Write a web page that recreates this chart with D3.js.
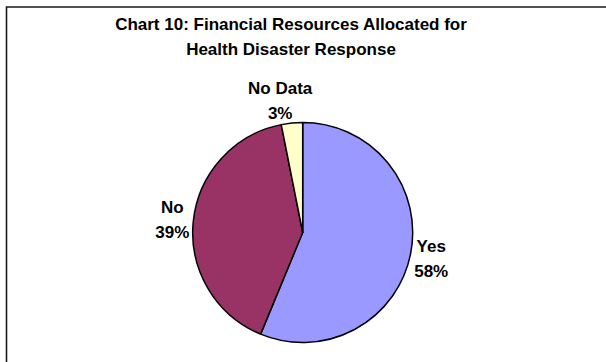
<!DOCTYPE html>
<html>
<head>
<meta charset="utf-8">
<script src="https://cdn.jsdelivr.net/npm/d3@7"></script>
<style>
  body { margin: 0; background: #fff; }
  svg { display: block; }
  text { font-family: "Liberation Sans", Arial, sans-serif; font-weight: bold; fill: #000; }
</style>
</head>
<body>
<div id="chart"></div>
<script>
// slice sizes as drawn (respondent counts), and the percentages printed on the labels
var categories = ["Yes", "No", "No Data"];
var values = [18, 13, 1];
var percentLabels = ["58%", "39%", "3%"];
var titleLines = ["Chart 10: Financial Resources Allocated for", "Health Disaster Response"];

var width = 606,
  height = 362;

var cx = 302.7,
  cy = 232.5,
  outerRadius = 110;

var color = d3.scaleOrdinal()
  .domain(categories)
  .range(["#9999ff", "#993366", "#ffffcc"]);

var svg = d3.select("#chart").append("svg")
  .attr("width", width)
  .attr("height", height);

// chart area frame (right and bottom edges run off the picture)
svg.append("path")
  .attr("d", "M6.5," + height + "V7H" + width)
  .attr("fill", "none")
  .attr("stroke", "#1a1a1a")
  .attr("stroke-width", 1.6);

svg.selectAll(".title")
  .data(titleLines)
  .enter().append("text")
  .attr("class", "title")
  .attr("x", 291)
  .attr("y", (d, i) => 30 + i * 25)
  .attr("text-anchor", "middle")
  .style("font-size", "17px")
  .text(d => d);

var pie = d3.pie()
  .sort(null)
  .value(d => d.value);

var arc = d3.arc()
  .innerRadius(0)
  .outerRadius(outerRadius);

var slices = pie(categories.map((c, i) => ({ name: c, value: values[i], pct: percentLabels[i] })));

var g = svg.append("g")
  .attr("transform", "translate(" + cx + "," + cy + ")");

g.selectAll(".slice")
  .data(slices)
  .enter().append("path")
  .attr("class", "slice")
  .attr("d", arc)
  .attr("fill", d => color(d.data.name))
  .attr("stroke", "#000")
  .attr("stroke-width", 1.5)
  .attr("stroke-linejoin", "round");

var labelSize = 17,
  lineGap = 25,
  pad = 4;

var labels = g.selectAll(".label")
  .data(slices)
  .enter().append("text")
  .attr("class", "label")
  .attr("text-anchor", "middle")
  .style("font-size", labelSize + "px");

labels.append("tspan")
  .attr("x", 0)
  .attr("dy", 0)
  .text(d => d.data.name);

labels.append("tspan")
  .attr("x", 0)
  .attr("dy", lineGap)
  .text(d => d.data.pct);

// place each two-line label block just outside the slice, pushed out along the mid angle;
// blocks near the top lean a bit further sideways, as the spreadsheet does
labels.attr("transform", function (d) {
  var a = (d.startAngle + d.endAngle) / 2;
  var bw = this.getBBox().width,
    bh = lineGap + labelSize * 0.75;
  var side = Math.sin(a) < 0 ? -1 : 1;
  var bx = Math.sin(a) * (outerRadius + pad) + side * bw / 2 * Math.max(Math.abs(Math.sin(a)), 0.35),
    by = -Math.cos(a) * (outerRadius + pad + bh / 2);
  return "translate(" + bx + "," + (by - bh / 2 + labelSize * 0.75) + ")";
});
</script>
</body>
</html>
